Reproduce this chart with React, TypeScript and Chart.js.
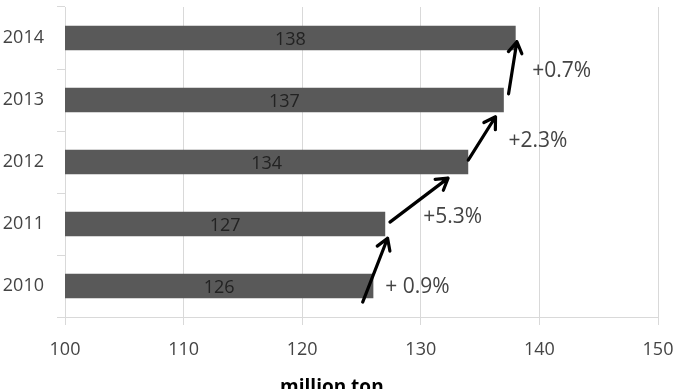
import React, { useEffect, useRef } from 'react';
import { Chart, registerables } from 'chart.js';

Chart.register(...registerables);

const years = ['2010', '2011', '2012', '2013', '2014'];
const production = [126, 127, 134, 137, 138];
const valueLabels = ['126', '127', '134', '137', '138'];
const xMin = 100;
const xMax = 150;
const xStep = 10;
const axisTitle = 'million ton';

// growth annotations (in data units: x = value, y = category index)
const growthLabels = ['+ 0.9%', '+5.3%', '+2.3%', '+0.7%'];
const growthLabelX = [127.0, 130.2, 137.4, 139.4];
const growthLabelY = [0.0, 1.13, 2.35, 3.48];
const arrowFromX = [125.1, 127.4, 134.0, 137.4];
const arrowFromY = [-0.26, 1.03, 2.03, 3.1];
const arrowToX = [127.2, 132.3, 136.3, 138.1];
const arrowToY = [0.77, 1.74, 2.73, 3.94];

const FONT = '"Open Sans", "Noto Sans", sans-serif';

const annotationPlugin = {
  id: 'annotations',
  afterDatasetsDraw(chart: any) {
    const ctx = chart.ctx;
    const xs = chart.scales.x;
    const ys = chart.scales.y;
    const meta = chart.getDatasetMeta(0);
    ctx.save();
    // value labels inside bars
    ctx.font = `18px ${FONT}`;
    ctx.fillStyle = '#222';
    ctx.textAlign = 'center';
    ctx.textBaseline = 'middle';
    meta.data.forEach((bar: any, i: number) => {
      const cx = (bar.x + xs.left) / 2;
      ctx.fillText(valueLabels[i], cx, bar.y + 2);
    });
    // arrows
    ctx.strokeStyle = '#000';
    ctx.lineWidth = 3.2;
    ctx.lineCap = 'round';
    ctx.lineJoin = 'round';
    for (let i = 0; i < arrowFromX.length; i++) {
      const x1 = xs.getPixelForValue(arrowFromX[i]);
      const y1 = ys.getPixelForValue(arrowFromY[i]);
      const x2 = xs.getPixelForValue(arrowToX[i]);
      const y2 = ys.getPixelForValue(arrowToY[i]);
      const ang = Math.atan2(y2 - y1, x2 - x1);
      const hl = 13;
      const spread = 0.55;
      ctx.beginPath();
      ctx.moveTo(x1, y1);
      ctx.lineTo(x2, y2);
      ctx.moveTo(x2 - hl * Math.cos(ang - spread), y2 - hl * Math.sin(ang - spread));
      ctx.lineTo(x2, y2);
      ctx.lineTo(x2 - hl * Math.cos(ang + spread), y2 - hl * Math.sin(ang + spread));
      ctx.stroke();
    }
    // growth labels
    ctx.font = `21px ${FONT}`;
    ctx.fillStyle = '#444';
    ctx.textAlign = 'left';
    ctx.textBaseline = 'middle';
    for (let i = 0; i < growthLabels.length; i++) {
      ctx.fillText(
        growthLabels[i],
        xs.getPixelForValue(growthLabelX[i]),
        ys.getPixelForValue(growthLabelY[i]) + 1
      );
    }
    ctx.restore();
  },
  afterDraw(chart: any) {
    const ctx = chart.ctx;
    const xs = chart.scales.x;
    ctx.save();
    ctx.font = `bold 19px ${FONT}`;
    ctx.fillStyle = '#000';
    ctx.textAlign = 'center';
    ctx.textBaseline = 'alphabetic';
    ctx.fillText(axisTitle, xs.left + (xs.right - xs.left) * 0.45, xs.bottom + 4);
    ctx.restore();
  },
};

export default function App() {
  const ref = useRef<HTMLCanvasElement | null>(null);
  useEffect(() => {
    document.body.style.margin = '0';
    const chart = new Chart(ref.current as HTMLCanvasElement, {
      type: 'bar',
      data: {
        labels: years,
        datasets: [
          {
            data: production,
            backgroundColor: '#595959',
            borderWidth: 0,
            categoryPercentage: 0.8,
            barPercentage: 0.49,
          },
        ],
      },
      options: {
        indexAxis: 'y',
        animation: false,
        responsive: true,
        maintainAspectRatio: false,
        layout: { padding: { left: 0, right: 21, top: 7, bottom: 0 } },
        plugins: {
          legend: { display: false },
          tooltip: { enabled: false },
        },
        scales: {
          x: {
            min: xMin,
            max: xMax,
            ticks: {
              stepSize: xStep,
              color: '#444',
              font: { family: FONT, size: 18 },
              padding: 14,
            },
            grid: { color: '#d9d9d9', tickLength: 8, lineWidth: 1 },
            border: { color: '#d9d9d9' },
            afterFit: (s: any) => {
              s.height = 72;
              s.paddingLeft = 0;
              s.paddingRight = 0;
            },
          },
          y: {
            reverse: true,
            ticks: {
              color: '#444',
              font: { family: FONT, size: 18 },
              padding: 13,
            },
            grid: {
              drawOnChartArea: false,
              drawTicks: true,
              tickLength: 8,
              color: '#d9d9d9',
            },
            border: { color: '#d9d9d9' },
            afterFit: (s: any) => {
              s.width = 65;
              s.paddingTop = 0;
              s.paddingBottom = 0;
            },
          },
        },
      } as any,
      plugins: [annotationPlugin],
    });
    return () => chart.destroy();
  }, []);
  return (
    <div style={{ position: 'fixed', left: 0, top: 0, width: 679, height: 389 }}>
      <canvas ref={ref} />
    </div>
  );
}
